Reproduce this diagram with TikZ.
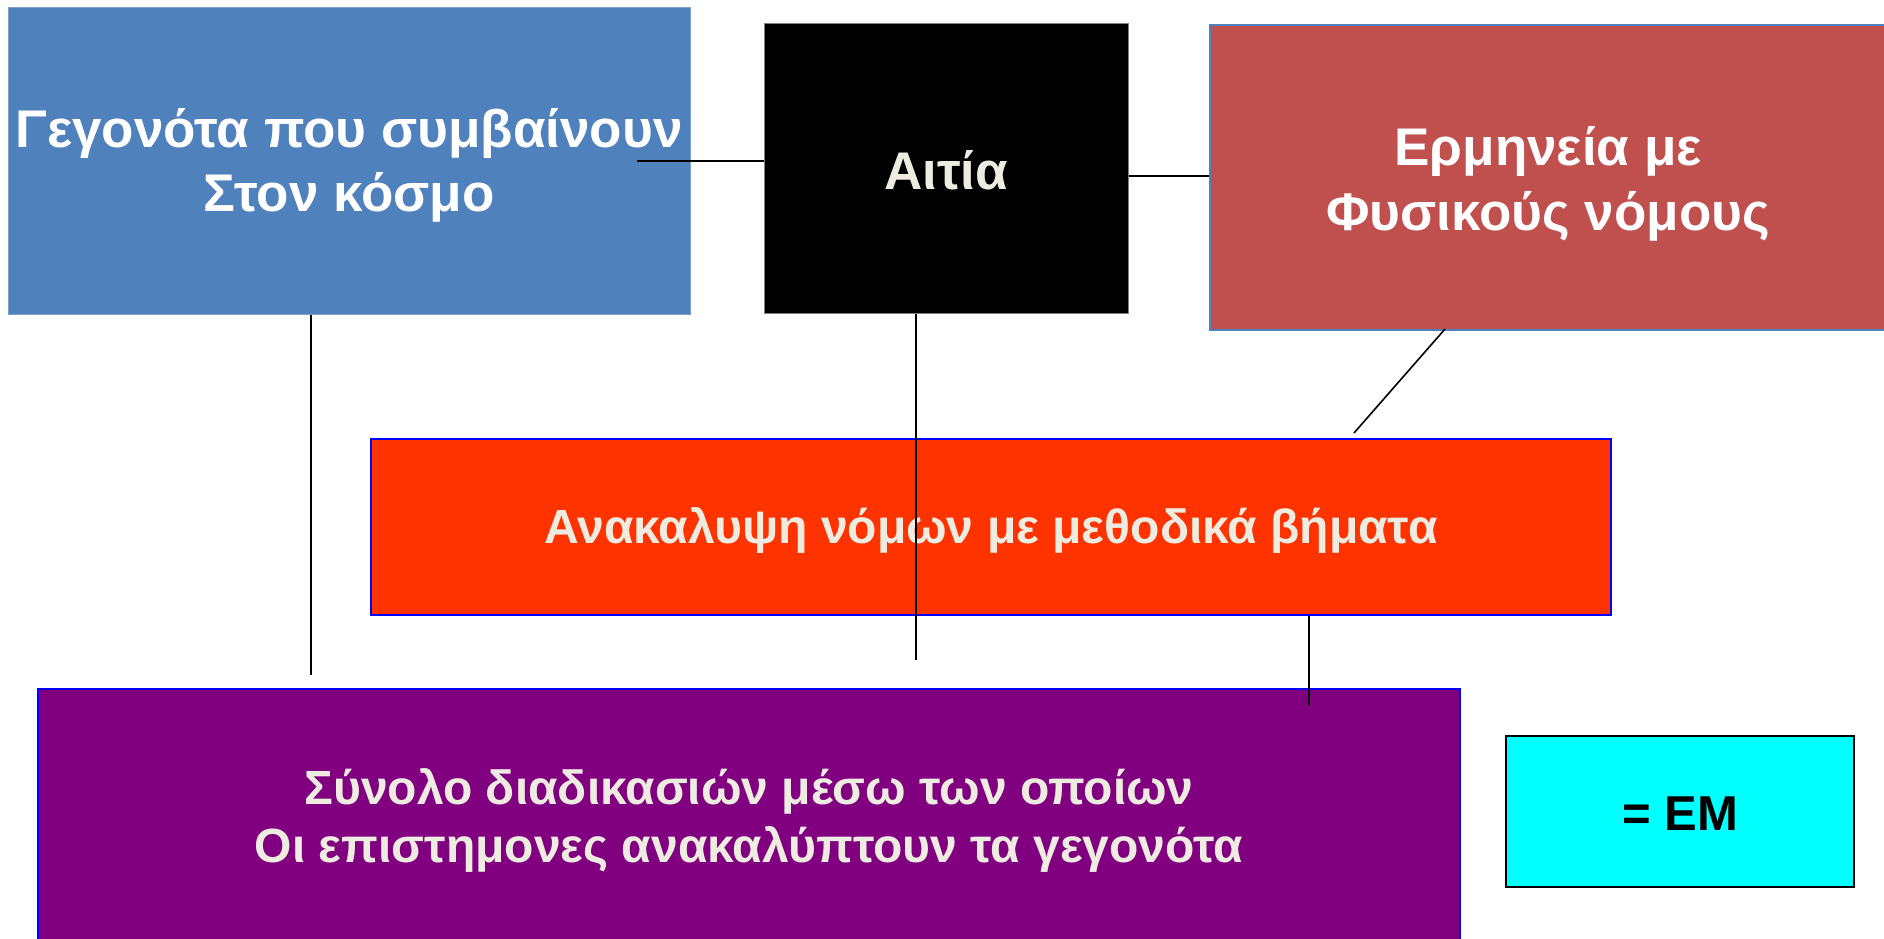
\documentclass[tikz,border=0pt]{standalone}
\usepackage{fontspec}
\setmainfont{Liberation Sans}
\definecolor{boxblue}{HTML}{4F81BD}
\definecolor{boxred}{HTML}{C0504D}
\definecolor{boxorange}{HTML}{FF3300}
\definecolor{boxpurple}{HTML}{800080}
\definecolor{boxcyan}{HTML}{00FFFF}
\definecolor{txtcream}{HTML}{EEECE1}
\definecolor{edgeblue}{HTML}{0000FF}
\begin{document}
\begin{tikzpicture}[x=1pt,y=-1pt,
  box/.style={rectangle, inner sep=0pt},
  label text/.style={inner sep=0pt, align=center},
  link/.style={draw=black, line width=1.6pt}]
\useasboundingbox (0,0) rectangle (1884,939);
\fill[white] (0,0) rectangle (1884,939);
% boxes
\node[box, fill=boxblue, draw=boxblue!75!white, line width=1pt,
  minimum width=682pt, minimum height=306pt] (facts) at (349,161) {};
\node[label text, text=white, font=\bfseries\fontsize{53}{64}\selectfont]
  (factsText) at ([yshift=-4pt]facts.center) {Γεγονότα που συμβαίνουν\\Στον κόσμο};
\node[box, fill=black, draw=gray, line width=1pt,
  minimum width=364pt, minimum height=289pt] (cause) at (946,168.5) {};
\node[label text, text=txtcream, font=\bfseries\fontsize{53}{60}\selectfont]
  (causeText) at ([yshift=-2pt]cause.center) {Αιτία};
\node[box, fill=boxred, draw=boxblue, line width=1.5pt,
  minimum width=676pt, minimum height=305pt] (laws) at (1548,177.5) {};
\node[label text, text=white, font=\bfseries\fontsize{53}{65}\selectfont]
  (lawsText) at ([yshift=-6pt]laws.center) {Ερμηνεία με\\Φυσικούς νόμους};
\node[box, fill=boxorange, draw=edgeblue, line width=2pt,
  minimum width=1240pt, minimum height=176pt] (steps) at (991,527) {};
\node[label text, text=txtcream, font=\bfseries\fontsize{48}{58}\selectfont]
  (stepsText) at ([yshift=-3pt]steps.center) {Ανακαλυψη νόμων με μεθοδικά βήματα};
\node[box, fill=boxpurple, draw=edgeblue, line width=2pt,
  minimum width=1422pt, minimum height=256pt] (method) at (749,817) {};
\node[label text, text=txtcream, font=\bfseries\fontsize{48}{58}\selectfont]
  (methodText) at ([yshift=-3pt]method.center)
  {Σύνολο διαδικασιών μέσω των οποίων\\Οι επιστημονες ανακαλύπτουν τα γεγονότα};
\node[box, fill=boxcyan, draw=black, line width=2.5pt,
  minimum width=348pt, minimum height=151pt] (em) at (1680,811.5) {};
\node[label text, text=black, font=\bfseries\fontsize{49}{58}\selectfont]
  (emText) at ([yshift=-2pt]em.center) {= ΕΜ};
% free ends
\coordinate (factsIn) at (637,161);
\coordinate (factsEnd) at (311,675);
\coordinate (causeEnd) at (916,660);
\coordinate (lawsStart) at (1445,329);
\coordinate (lawsEnd) at (1354,433);
\coordinate (stepsEnd) at (1309,705);
% connectors
\draw[link] (factsIn) -- (factsIn -| cause.west);
\draw[link] (cause.east |- 0,176) -- (laws.west |- 0,176);
\draw[link] (factsEnd |- facts.south) -- (factsEnd);
\draw[link] (causeEnd |- cause.south) -- (causeEnd);
\draw[link] (lawsStart) -- (lawsEnd);
\draw[link] (stepsEnd |- steps.south) -- (stepsEnd);
\end{tikzpicture}
\end{document}
